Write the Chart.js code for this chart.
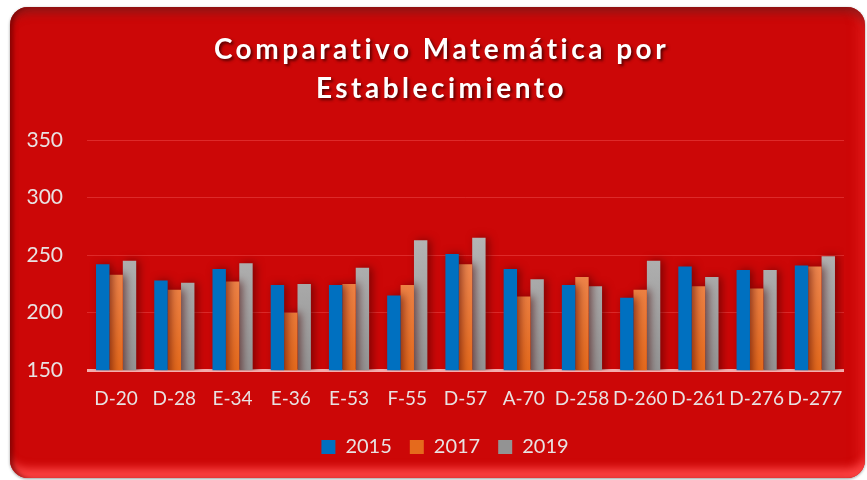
<!DOCTYPE html>
<html>
<head>
<meta charset="utf-8">
<script src="https://cdn.jsdelivr.net/npm/chart.js@4.4.0/dist/chart.umd.min.js"></script>
<style>
  html, body { margin: 0; padding: 0; background: #fff; overflow: hidden; }
  #wrap { position: relative; width: 867px; height: 480px; }
  .card {
    position: absolute; left: 10px; top: 7px; width: 855px; height: 471px;
    border-radius: 18px; background: #cc0707;
    box-shadow:
      inset 5px 0 5px -2px rgba(110, 0, 0, 0.75),
      inset 0 12px 10px -6px rgba(120, 30, 30, 0.7),
      inset 0 -16px 8px -6px rgba(255, 70, 70, 0.9),
      inset -18px 0 10px -10px rgba(230, 30, 30, 0.6),
      0 1px 3px rgba(0, 0, 0, 0.4);
  }
  canvas { position: absolute; left: 0; top: 0; }
</style>
</head>
<body>
<div id="wrap">
  <div class="card"></div>
  <canvas id="chart" width="867" height="480"></canvas>
</div>
<script>
const titleLines = ["Comparativo Matemática por", "Establecimiento"];
const establishments = ["D-20", "D-28", "E-34", "E-36", "E-53", "F-55", "D-57", "A-70", "D-258", "D-260", "D-261", "D-276", "D-277"];
const years = ["2015", "2017", "2019"];
const s2015 = [242, 228, 238, 224, 224, 215, 251, 238, 224, 213, 240, 237, 241];
const s2017 = [233, 220, 227, 200, 225, 224, 242, 214, 231, 220, 223, 221, 240];
const s2019 = [245, 226, 243, 225, 239, 263, 265, 229, 223, 245, 231, 237, 249];
const yTicks = [150, 200, 250, 300, 350];

const textColor = "#e8e2e2";

// vertical gradient over the plot, light at bar tops, darker at the base
function grad(chart, top, bottom) {
  const a = chart.chartArea;
  if (!a) return bottom;
  const g = chart.ctx.createLinearGradient(0, a.top + 90, 0, a.bottom);
  g.addColorStop(0, top);
  g.addColorStop(1, bottom);
  return g;
}

const spacedTitle = {
  id: "spacedTitle",
  afterDraw(chart) {
    const ctx = chart.ctx;
    ctx.save();
    ctx.font = "bold 28px Lato";
    ctx.letterSpacing = "3.5px";
    ctx.fillStyle = "#ffffff";
    ctx.textAlign = "center";
    ctx.textBaseline = "middle";
    ctx.shadowColor = "rgba(60, 0, 0, 0.8)";
    ctx.shadowOffsetX = 2;
    ctx.shadowOffsetY = 2;
    ctx.shadowBlur = 3;
    titleLines.forEach((t, i) => ctx.fillText(t, chart.width / 2 + 8, 50 + i * 39));
    ctx.restore();
  },
};

const barShadow = {
  id: "barShadow",
  beforeDatasetsDraw(chart) {
    const ctx = chart.ctx;
    ctx.save();
    ctx.shadowColor = "rgba(70, 0, 0, 0.6)";
    ctx.shadowBlur = 8;
    ctx.shadowOffsetX = 3;
    ctx.shadowOffsetY = 0;
  },
  afterDatasetsDraw(chart) {
    chart.ctx.restore();
  },
};

new Chart(document.getElementById("chart"), {
  type: "bar",
  data: {
    labels: establishments,
    datasets: [
      { label: years[0], data: s2015, backgroundColor: "#0070c0" },
      { label: years[1], data: s2017, backgroundColor: (c) => grad(c.chart, "#f39160", "#e56a1c") },
      { label: years[2], data: s2019, backgroundColor: (c) => grad(c.chart, "#b6b6b6", "#939393") },
    ],
  },
  options: {
    responsive: false,
    animation: false,
    devicePixelRatio: 1,
    layout: { padding: { top: 140, right: 0, left: 23, bottom: 13 } },
    datasets: { bar: { categoryPercentage: 0.69, barPercentage: 1 } },
    plugins: {
      title: { display: false },
      tooltip: { enabled: false },
      legend: {
        position: "bottom",
        labels: {
          color: textColor,
          font: { family: "Lato", size: 20 },
          boxWidth: 14,
          boxHeight: 14,
          padding: 18,
        },
      },
    },
    scales: {
      x: {
        grid: { display: false },
        border: { display: false },
        ticks: { color: textColor, font: { family: "Lato", size: 19 }, padding: 9, maxRotation: 0 },
      },
      y: {
        min: 150,
        max: 350,
        afterFit: (s) => { s.width = 64; },
        afterBuildTicks: (s) => { s.ticks = yTicks.map((v) => ({ value: v })); },
        border: { display: false },
        grid: {
          drawTicks: false,
          color: (c) => (c.tick && c.tick.value === 150 ? "rgba(255, 215, 215, 0.8)" : "rgba(255, 110, 110, 0.35)"),
          lineWidth: (c) => (c.tick && c.tick.value === 150 ? 3 : 1),
        },
        ticks: { color: textColor, font: { family: "Lato", size: 21 }, padding: 24 },
      },
      // empty right gutter so the plot ends where the reference does
      gutter: {
        position: "right",
        min: 150,
        max: 350,
        afterFit: (s) => { s.width = 23; },
        grid: { display: false },
        border: { display: false },
        ticks: { display: false },
      },
    },
  },
  plugins: [barShadow, spacedTitle],
});
</script>
</body>
</html>
